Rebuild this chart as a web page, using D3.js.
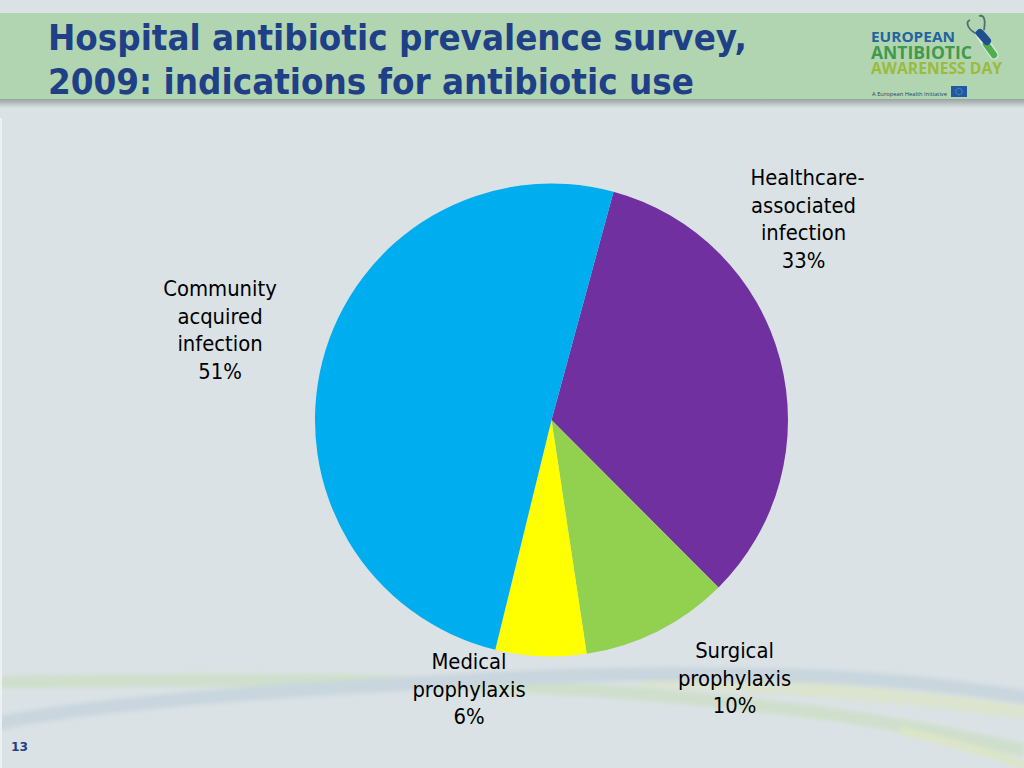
<!DOCTYPE html>
<html><head><meta charset="utf-8">
<script src="https://cdnjs.cloudflare.com/ajax/libs/d3/7.8.5/d3.min.js"></script>
<style>html,body{margin:0;padding:0;background:#dbe2e5;overflow:hidden}svg{display:block}</style>
</head><body><svg id="c" width="1024" height="768"></svg>
<script>
const categories=["Healthcare-associated infection","Surgical prophylaxis","Medical prophylaxis","Community acquired infection"];
const sliceValues=[33.3,10.1,6.2,50.4];
const sliceColors=["#7030a0","#92d050","#ffff00","#00adef"];
const labelLines=[["Healthcare-","associated","infection","33%"],["Surgical","prophylaxis","10%"],["Medical","prophylaxis","6%"],["Community","acquired","infection","51%"]];
const labelPos=[[803.5,185],[734.5,658],[469,669],[220,296]];
const titleLines=["Hospital antibiotic prevalence survey,","2009: indications for antibiotic use"];
const logoLines=[["EUROPEAN","#22649f",14.5,42,84],["ANTIBIOTIC","#3f9a4b",17.5,59,101],["AWARENESS DAY","#9bbb3c",15.5,74,131]];

const svg=d3.select("#c");
const defs=svg.append("defs");
const sh=defs.append("linearGradient").attr("id","sh").attr("x1",0).attr("x2",0).attr("y1",0).attr("y2",1);
sh.append("stop").attr("offset",0).attr("stop-color","#98a39f");
sh.append("stop").attr("offset",1).attr("stop-color","#dbe2e5");
const bl=defs.append("filter").attr("id","bl").attr("x","-5%").attr("y","-50%").attr("width","110%").attr("height","200%");
bl.append("feGaussianBlur").attr("stdDeviation",2);

svg.append("rect").attr("width",1024).attr("height",768).attr("fill","#dbe2e5");
// background swooshes
const sw=svg.append("g").attr("fill","none").attr("filter","url(#bl)");
sw.append("path").attr("d","M0,682 C130,680 260,679 392,682 C500,685 580,688 653,695 C730,702 790,708 850,717 C920,728 980,740 1024,750").attr("stroke","#cfdfcc").attr("stroke-width",13);
sw.append("path").attr("d","M640,680 C760,684 900,695 1024,712").attr("stroke","#dce4cf").attr("stroke-width",14);
sw.append("path").attr("d","M900,730 C950,742 990,752 1024,765").attr("stroke","#dce5c6").attr("stroke-width",8);
sw.append("path").attr("d","M-5,724 C60,710 130,705 196,698 C270,692 330,688 392,685 C450,681 520,677 588,675 C660,673 720,674 784,675 C870,677 950,685 1030,698").attr("stroke","#c9d6de").attr("stroke-width",14);
svg.append("rect").attr("x",0).attr("y",118).attr("width",2).attr("height",650).attr("fill","#eef1f2");

// header band
svg.append("rect").attr("x",0).attr("y",13).attr("width",1024).attr("height",86).attr("fill","#b1d5b0");
svg.append("rect").attr("x",0).attr("y",99).attr("width",1024).attr("height",9).attr("fill","url(#sh)");
svg.selectAll("text.title").data(titleLines).join("text").attr("class","title")
  .attr("x",48).attr("y",(d,i)=>49.5+i*44.5)
  .attr("font-family","DejaVu Sans").attr("font-weight","bold").attr("font-size",36)
  .attr("textLength",(d,i)=>i?646:699).attr("lengthAdjust","spacingAndGlyphs")
  .attr("fill","#1f3f86").text(d=>d);

// logo
svg.selectAll("text.logo").data(logoLines).join("text").attr("class","logo")
  .attr("x",871).attr("y",d=>d[3])
  .attr("font-family","Open Sans, DejaVu Sans").attr("font-weight","bold").attr("font-size",d=>d[2])
  .attr("textLength",d=>d[4]).attr("lengthAdjust","spacingAndGlyphs")
  .attr("fill",d=>d[1]).text(d=>d[0]);
svg.append("path").attr("d","M970,20 C965,22 968,29 975,33 L981,32 M979,16 C986,14 985,24 984,30").attr("fill","none").attr("stroke","#55706a").attr("stroke-width",1.8);
svg.append("line").attr("x1",981).attr("y1",36).attr("x2",994).attr("y2",55).attr("stroke","#dfe8dc").attr("stroke-width",9).attr("stroke-linecap","round");
svg.append("line").attr("x1",986).attr("y1",44).attr("x2",994).attr("y2",55).attr("stroke","#4fae4f").attr("stroke-width",6.5).attr("stroke-linecap","round");
svg.append("line").attr("x1",980).attr("y1",33).attr("x2",987).attr("y2",41).attr("stroke","#1f4f8f").attr("stroke-width",8).attr("stroke-linecap","round");
svg.append("text").attr("x",872).attr("y",96).attr("font-family","Open Sans, DejaVu Sans").attr("font-size",6)
  .attr("textLength",75).attr("lengthAdjust","spacingAndGlyphs").attr("fill","#1f3f66").text("A European Health Initiative");
svg.append("rect").attr("x",951).attr("y",86).attr("width",16).attr("height",11).attr("fill","#1d5aa6");
svg.append("circle").attr("cx",959).attr("cy",91.5).attr("r",3.2).attr("fill","none").attr("stroke","#9db7a0").attr("stroke-width",0.8).attr("stroke-dasharray","1 0.7");

// pie
const startDeg=15.2;
const pie=d3.pie().sort(null).startAngle(startDeg*Math.PI/180).endAngle((startDeg+360)*Math.PI/180);
const arc=d3.arc().innerRadius(0).outerRadius(236.5);
svg.append("g").attr("transform","translate(551.5,420)")
  .selectAll("path").data(pie(sliceValues)).join("path").attr("d",arc).attr("fill",(d,i)=>sliceColors[i]);

// labels
labelLines.forEach((lines,k)=>{
  svg.append("text").attr("text-anchor","middle")
    .attr("font-family","DejaVu Sans Condensed, DejaVu Sans").attr("font-stretch","condensed").attr("font-size",21.8).attr("fill","#000")
    .attr("aria-label",categories[k])
    .selectAll("tspan").data(lines).join("tspan")
    .attr("x",d=>labelPos[k][0]+(d==="Healthcare-"?4:0)).attr("y",(d,i)=>labelPos[k][1]+i*27.5).text(d=>d);
});
svg.append("text").attr("x",11).attr("y",751).attr("font-family","DejaVu Sans").attr("font-weight","bold").attr("font-size",13).attr("textLength",17).attr("lengthAdjust","spacingAndGlyphs").attr("fill","#1f3f86").text("13");
</script></body></html>
